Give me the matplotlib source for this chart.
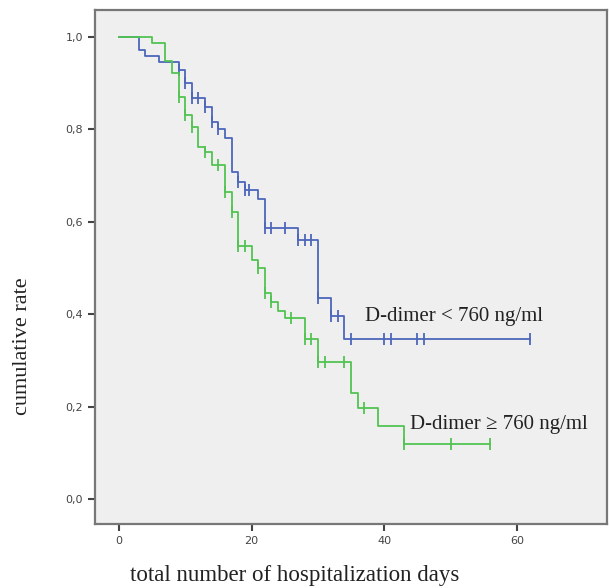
import numpy as np
import matplotlib
matplotlib.use('Agg')
import matplotlib.pyplot as plt
from matplotlib.ticker import FuncFormatter

# D-dimer < 760 ng/ml
blue_t = [0, 3, 4, 6, 9, 10, 11, 13, 14, 15, 16, 17, 18, 19, 21, 22, 27, 30, 32, 34]
blue_s = [1.0, 0.972, 0.959, 0.946, 0.929, 0.90, 0.868, 0.849, 0.816, 0.80, 0.781,
          0.708, 0.686, 0.669, 0.65, 0.587, 0.561, 0.435, 0.396, 0.346]
blue_cens = [9, 10, 11, 12, 13, 14, 15, 18, 19, 19.6, 22, 23, 25, 27, 28, 29, 30,
             32, 33, 35, 40, 41, 45, 46, 62]

# D-dimer >= 760 ng/ml
green_t = [0, 5, 7, 8, 9, 10, 11, 12, 13, 14, 16, 17, 18, 20, 21, 22, 23, 24, 25,
           28, 30, 35, 36, 39, 43]
green_s = [1.0, 0.987, 0.948, 0.922, 0.87, 0.831, 0.805, 0.762, 0.75, 0.723, 0.665,
           0.621, 0.548, 0.517, 0.5, 0.446, 0.426, 0.407, 0.392, 0.346, 0.297,
           0.229, 0.197, 0.158, 0.119]
green_cens = [9, 10, 11, 13, 15, 16, 17, 18, 19, 21, 22, 23, 26, 28, 29, 30, 31,
              34, 37, 43, 50, 56]

yticks = [0.0, 0.2, 0.4, 0.6, 0.8, 1.0]
xticks = [0, 20, 40, 60]

blue = '#4d66bb'
green = '#52c452'
serif = 'Liberation Serif'


def step_at(times, surv, t):
    # survival value right after time t
    i = np.searchsorted(times, t, side='right') - 1
    return surv[i]


def draw_km(ax, times, surv, cens, color):
    end = max(cens)
    xs = list(times) + [end]
    ys = list(surv) + [surv[-1]]
    ax.step(xs, ys, where='post', color=color, lw=1.3)
    cy = [step_at(times, surv, c) for c in cens]
    ax.plot(cens, cy, ls='none', marker='|', ms=8, mew=1.3, color=color)


fig = plt.figure(figsize=(6.09, 5.88), dpi=100)
ax = fig.add_axes([0.156, 0.109, 0.841, 0.874])
ax.set_facecolor('#efefef')

draw_km(ax, blue_t, blue_s, blue_cens, blue)
draw_km(ax, green_t, green_s, green_cens, green)

ax.set_xlim(-3.6, 73.6)
ax.set_ylim(-0.054, 1.058)
ax.set_xticks(xticks)
ax.set_yticks(yticks)
ax.yaxis.set_major_formatter(FuncFormatter(lambda v, p: ('%.1f' % v).replace('.', ',')))
ax.tick_params(direction='out', length=5, width=1.5, color='#444444',
               labelsize=8, labelcolor='#444444')

for sp in ax.spines.values():
    sp.set_color('#777777')
    sp.set_linewidth(1.6)

ax.text(37.1, 0.394, 'D-dimer < 760 ng/ml', family=serif, fontsize=15,
        va='center', ha='left', color='#222222')
ax.text(43.9, 0.162, 'D-dimer \u2265 760 ng/ml', family=serif, fontsize=15,
        va='center', ha='left', color='#222222')

fig.text(23 / 609, 1 - 346 / 588, 'cumulative rate', family=serif, fontsize=16,
         rotation=90, ha='center', va='center', color='#222222')
fig.text(295 / 609, 1 - 575 / 588, 'total number of hospitalization days', family=serif,
         fontsize=16.5, ha='center', va='center', color='#222222')

fig.savefig('out.png', dpi=100, facecolor='white')
